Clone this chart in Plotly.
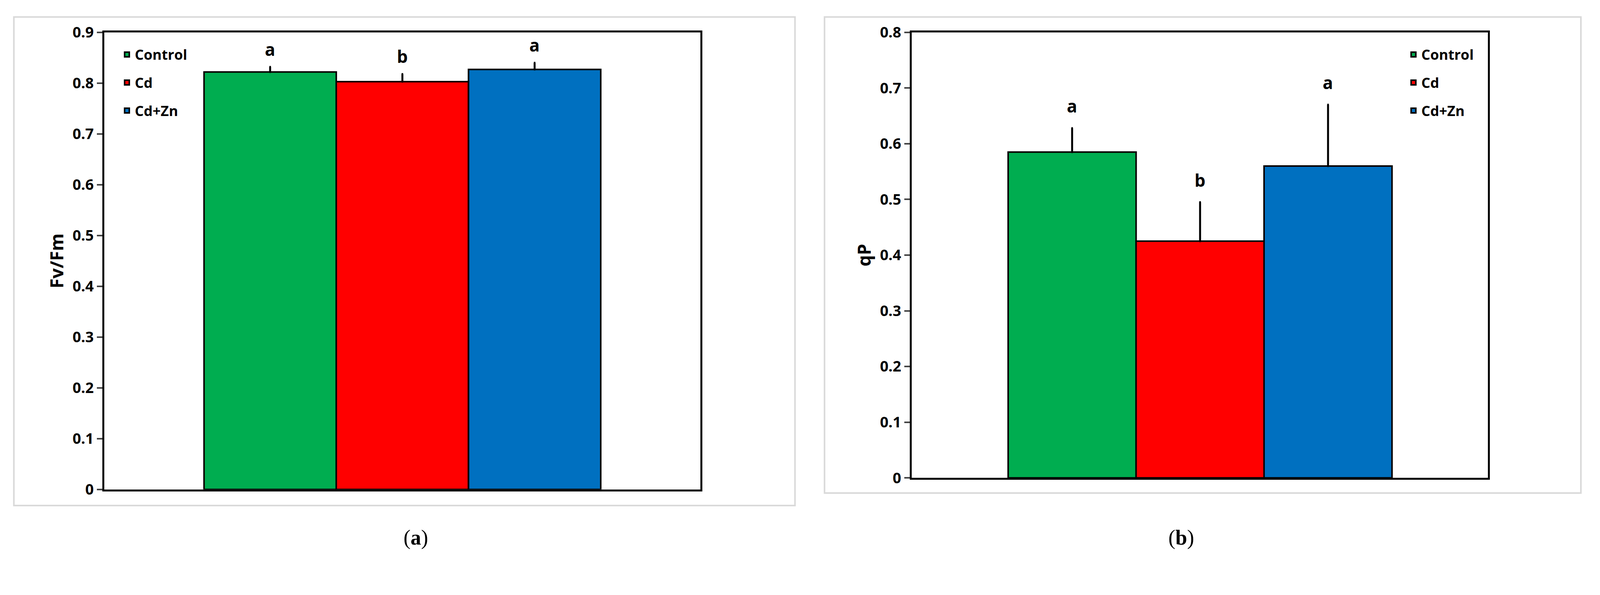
import plotly.graph_objects as go

groups = ["Control", "Cd", "Cd+Zn"]
colors = ["#00AD50", "#FF0000", "#0070C0"]
fvfm = [0.822, 0.803, 0.827]
fvfm_err = [0.010, 0.015, 0.013]
fvfm_letters = ["a", "b", "a"]
qp = [0.585, 0.425, 0.560]
qp_err = [0.043, 0.070, 0.110]
qp_letters = ["a", "b", "a"]
yticks_a = [0, 0.1, 0.2, 0.3, 0.4, 0.5, 0.6, 0.7, 0.8, 0.9]
yticks_b = [0, 0.1, 0.2, 0.3, 0.4, 0.5, 0.6, 0.7, 0.8]

fig = go.Figure()
for i, g in enumerate(groups):
    for vals, errs, xa, ya, lg in [(fvfm, fvfm_err, "x", "y", "legend"), (qp, qp_err, "x2", "y2", "legend2")]:
        fig.add_trace(go.Bar(
            x=[i], y=[vals[i]], width=1, name=g, xaxis=xa, yaxis=ya, legend=lg, legendgroup=lg + g,
            marker=dict(color=colors[i], line=dict(color="black", width=4)),
            error_y=dict(type="data", array=[errs[i]], arrayminus=[0], symmetric=False,
                         color="black", thickness=5, width=2),
        ))

for i in range(3):
    fig.add_annotation(x=i, y=fvfm[i] + fvfm_err[i] + 0.035, xref="x", yref="y", text="<b>%s</b>" % fvfm_letters[i],
                       showarrow=False, font=dict(size=44, family="Open Sans", color="black"))
    fig.add_annotation(x=i, y=qp[i] + qp_err[i] + 0.04, xref="x2", yref="y2", text="<b>%s</b>" % qp_letters[i],
                       showarrow=False, font=dict(size=44, family="Open Sans", color="black"))

axcommon = dict(showgrid=False, zeroline=False, showline=True, linecolor="black", linewidth=5, mirror=True)
tickfont = dict(size=38, family="Open Sans", color="black", weight="bold")
fig.update_layout(
    width=4368, height=1523, margin=dict(l=0, r=0, t=0, b=0),
    paper_bgcolor="white", plot_bgcolor="white", barmode="overlay",
    xaxis=dict(domain=[0.0592, 0.4086], range=[-1.2555, 3.253], showticklabels=False, ticks="", **axcommon),
    yaxis=dict(domain=[0.1448 + 0.028, 0.9682], range=[0, 0.9], tickvals=yticks_a, ticktext=[f"{v:g}" for v in yticks_a],
               ticks="outside", ticklen=14, tickwidth=4, tickfont=tickfont,
               title=dict(text="<b>Fv/Fm</b>", font=dict(size=46, family="Open Sans", color="black"), standoff=10),
               **axcommon),
    xaxis2=dict(domain=[0.5324, 0.8701], range=[-1.255, 3.248], showticklabels=False, ticks="", anchor="y2", **axcommon),
    yaxis2=dict(domain=[0.1929, 0.9682], range=[0, 0.8], tickvals=yticks_b, ticktext=[f"{v:g}" for v in yticks_b],
                ticks="outside", ticklen=14, tickwidth=4, tickfont=tickfont, anchor="x2",
                title=dict(text="<b>qP</b>", font=dict(size=46, family="Open Sans", color="black"), standoff=10),
                **axcommon),
    legend=dict(x=0.068, y=0.95, xanchor="left", yanchor="top", bgcolor="rgba(0,0,0,0)",
                font=dict(size=36, family="Open Sans", color="black", weight="bold"), itemwidth=30, tracegroupgap=22),
    legend2=dict(x=0.822, y=0.95, xanchor="left", yanchor="top", bgcolor="rgba(0,0,0,0)",
                 font=dict(size=36, family="Open Sans", color="black", weight="bold"), itemwidth=30, tracegroupgap=22),
    showlegend=True,
)

fig.add_shape(type="rect", xref="paper", yref="paper", x0=0.0063, x1=0.4641, y0=0.1448, y1=0.9949,
              line=dict(color="#D9D9D9", width=4), layer="below")
fig.add_shape(type="rect", xref="paper", yref="paper", x0=0.4814, x1=0.9247, y0=0.1665, y1=0.9949,
              line=dict(color="#D9D9D9", width=4), layer="below")
fig.add_annotation(x=0.2342, y=0.067, xref="paper", yref="paper", text="(<b>a</b>)", showarrow=False,
                   font=dict(size=54, family="Liberation Serif", color="black"))
fig.add_annotation(x=0.6985, y=0.067, xref="paper", yref="paper", text="(<b>b</b>)", showarrow=False,
                   font=dict(size=54, family="Liberation Serif", color="black"))

fig.write_html("out.html")
